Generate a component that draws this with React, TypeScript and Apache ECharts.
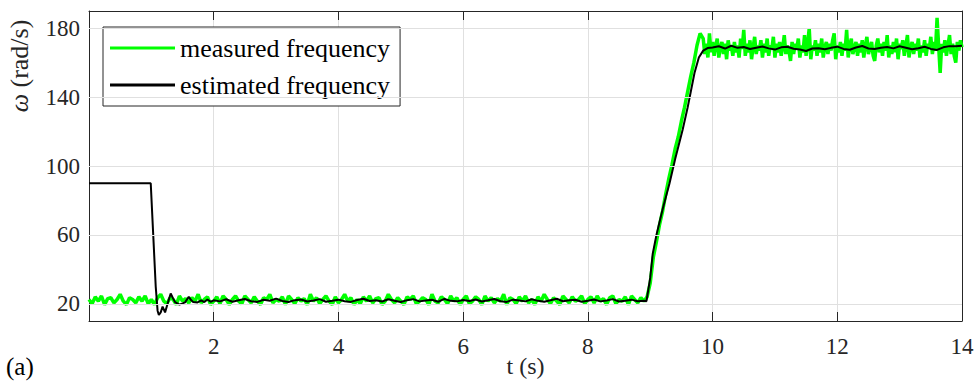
import React, { useEffect, useRef } from 'react';
import * as echarts from 'echarts';

// ---------- data ----------
const xTickInterval = 2;
const yTickValues = [20, 60, 100, 140, 180];

// measured frequency, low plateau sampled every 0.05 s
const measuredLowStep = 0.05;
const measuredLowStart = 0; // 0 .. 8.90 s
const measuredLow = [
  22.5, 20, 24, 21.5, 24.5, 19.5, 23, 23.5, 20.5, 22.5, 25.5, 21.5, 19.5, 23.5, 22.5, 20.5, 24, 21.5, 24.5, 20,
  22.5, 19.5, 23.5, 25.5, 21.5, 20, 23.5, 22.5, 19.5, 24.5, 21.5, 23, 20.5, 23.5, 21.5, 25.5, 20.5, 22.5, 24, 19.5,
  21.5, 24, 20, 24.5, 22.5, 19.5, 22.5, 24.5, 21.5, 20, 24.5, 22.5, 20.5, 24, 21.5, 19.5, 23.5, 22.5, 25.5, 20.5,
  22.5, 21.5, 24, 19.5, 24.5, 22.5, 20, 23.5, 21.5, 23, 19.5, 25.5, 21.5, 23.5, 20, 22.5, 24.5, 21.5, 19.5, 24,
  20.5, 22.5, 25.5, 21.5, 23.5, 19.5, 22.5, 20, 24, 21.5, 24.5, 20.5, 23, 23.5, 19.5, 21.5, 25.5, 22.5, 20.5, 23.5,
  21.5, 19.5, 24, 22.5, 24.5, 20, 21.5, 23.5, 22.5, 19.5, 25.5, 21.5, 20.5, 24, 22.5, 20, 24.5, 21.5, 23.5, 19.5,
  22.5, 24.5, 20, 21.5, 24, 22.5, 19.5, 24.5, 21.5, 23.5, 20.5, 23, 21.5, 25.5, 19.5, 23.5, 22.5, 20, 24, 21.5,
  24.5, 20.5, 22.5, 19.5, 24, 21.5, 25.5, 22.5, 20, 23.5, 21.5, 19.5, 24.5, 22.5, 20.5, 24, 21.5, 22.5, 24.5, 20,
  22.5, 24, 20.5, 24.5, 21.5, 23, 19.5, 23.5, 24.5, 20, 22.5, 21.5, 24, 19.5, 24.5, 22.5, 20.5, 23.5, 21.5,
];
const measuredRamp: [number, number][] = [
  [8.95, 24], [9.0, 32], [9.05, 47], [9.1, 56], [9.15, 66], [9.2, 74], [9.25, 84],
  [9.3, 93], [9.35, 101], [9.4, 110], [9.45, 117], [9.5, 126], [9.55, 134], [9.6, 143],
  [9.65, 152], [9.7, 160], [9.75, 170], [9.8, 177],
];
// high plateau sampled every 0.025 s
const measuredHighStep = 0.025;
const measuredHighStart = 9.85; // 9.85 .. 14.00 s
const measuredHigh = [
  174, 165, 171, 163, 177, 166, 172, 164, 170, 174, 163, 169, 172, 165, 171, 162, 173, 167, 170, 164,
  172, 166, 170, 163, 174, 168, 179, 164, 171, 166, 173, 162, 169, 175, 165, 170, 167, 173, 163, 171,
  166, 174, 164, 170, 168, 175, 163, 171, 166, 172, 164, 169, 176, 165, 170, 167, 161, 172, 165, 171,
  168, 174, 163, 170, 166, 176, 164, 171, 180, 162, 170, 167, 173, 164, 171, 166, 174, 163, 169, 172,
  165, 171, 167, 173, 177, 162, 170, 166, 172, 164, 171, 167, 179, 163, 170, 174, 165, 169, 172, 164,
  171, 166, 173, 163, 170, 175, 165, 169, 172, 164, 161, 170, 174, 166, 171, 164, 172, 167, 176, 163,
  170, 165, 172, 166, 174, 162, 171, 168, 173, 164, 170, 176, 163, 169, 172, 165, 171, 167, 174, 163,
  170, 166, 173, 164, 171, 168, 175, 165, 172, 167, 186, 170, 154, 171, 166, 173, 164, 170, 176, 165,
  171, 164, 160, 172, 167, 173, 169,
];

// estimated frequency
const estimatedHead: [number, number][] = [
  [0, 90], [0.99, 90], [1.03, 60], [1.07, 30], [1.1, 16], [1.12, 13.5], [1.15, 15],
  [1.18, 18.4], [1.22, 15], [1.26, 20], [1.31, 26], [1.35, 23], [1.38, 21], [1.45, 19.5],
  [1.5, 20.2], [1.54, 20.8], [1.6, 24], [1.64, 22], [1.67, 21], [1.74, 20.8], [1.8, 22],
  [1.85, 21], [1.9, 22.5], [1.95, 21.2], [2.0, 22],
];
const estimatedStep = 0.1;
const estimatedLowStart = 2.1; // 2.1 .. 8.9 s
const estimatedLow = [
  21.4, 22.6, 21.2, 22.0, 22.8, 21.5, 21.1, 22.3, 21.8, 23.0, 21.6, 21.0, 22.1, 22.5, 21.3, 21.9, 22.7, 21.2, 21.7, 22.4,
  21.5, 21.1, 22.2, 22.9, 21.6, 22.0, 21.3, 22.6, 21.8, 21.0, 22.1, 22.7, 21.4, 21.9, 22.3, 21.2, 22.8, 21.7, 21.4, 22.2,
  21.6, 22.5, 21.3, 22.0, 22.8, 21.5, 21.1, 22.4, 21.9, 21.4, 22.6, 21.7, 21.2, 22.1, 22.9, 21.5, 22.0, 22.3, 21.2, 21.8,
  22.5, 21.4, 21.9, 22.7, 21.3, 21.8, 22.4, 21.5, 21.7,
];
const estimatedRamp: [number, number][] = [
  [8.94, 21.5], [9.0, 35], [9.04, 49], [9.1, 60], [9.2, 75], [9.31, 90], [9.4, 104],
  [9.52, 121], [9.6, 134], [9.71, 154], [9.78, 163], [9.85, 167], [9.92, 168.5],
];
const estimatedHighStart = 10.0; // 10.0 .. 14.0 s
const estimatedHigh = [
  168.8, 169.5, 168.2, 169.8, 168.6, 169.1, 167.9, 168.7, 169.4, 168.3, 167.6, 168.9, 169.2, 168.1, 167.7, 166.8, 168.2, 168.4, 167.8, 168.6,
  169.3, 168.0, 167.5, 168.8, 169.7, 168.2, 167.9, 168.6, 169.1, 168.3, 169.5, 168.7, 167.8, 168.4, 169.2, 168.0, 167.4, 168.9, 169.6, 169.5,
  169.8,
];

const seriesNames = ['measured frequency', 'estimated frequency'];

// ---------- helpers ----------
const sampled = (start: number, step: number, vals: number[]): [number, number][] =>
  vals.map((v, i) => [Number((start + i * step).toFixed(3)), v]);

const measuredData: [number, number][] = [
  ...sampled(measuredLowStart, measuredLowStep, measuredLow),
  ...measuredRamp,
  ...sampled(measuredHighStart, measuredHighStep, measuredHigh),
];
const estimatedData: [number, number][] = [
  ...estimatedHead,
  ...sampled(estimatedLowStart, estimatedStep, estimatedLow),
  ...estimatedRamp,
  ...sampled(estimatedHighStart, estimatedStep, estimatedHigh),
];

const FONT = 'Liberation Serif';
const AXIS_COLOR = '#262626';
const GRID_COLOR = '#e0e0e0';

export default function App() {
  const ref = useRef<HTMLDivElement>(null);

  useEffect(() => {
    document.body.style.margin = '0';
    if (!ref.current) return;
    const chart = echarts.init(ref.current, undefined, { renderer: 'svg' });

    const tickCommon = {
      show: true,
      inside: true,
      length: 9,
      lineStyle: { color: AXIS_COLOR, width: 1 },
    };

    chart.setOption({
      animation: false,
      backgroundColor: '#ffffff',
      textStyle: { fontFamily: FONT },
      grid: { left: 89, right: 15, top: 11, bottom: 60, outerBoundsMode: 'none', containLabel: false },
      legend: {
        data: seriesNames,
        icon: 'rect',
        orient: 'vertical',
        left: 103,
        top: 27,
        itemWidth: 65,
        itemHeight: 3,
        itemGap: 11,
        padding: [8, 10, 8, 7],
        backgroundColor: '#ffffff',
        borderColor: AXIS_COLOR,
        borderWidth: 1,
        borderRadius: 0,
        selectedMode: false,
        textStyle: { fontFamily: FONT, fontSize: 26, color: '#000000' },
      },
      xAxis: [
        {
          type: 'value',
          position: 'bottom',
          min: 0,
          max: 14,
          interval: xTickInterval,
          name: 't (s)',
          nameLocation: 'middle',
          nameGap: 33,
          nameMoveOverlap: false,
          nameTextStyle: { fontFamily: FONT, fontSize: 24, color: AXIS_COLOR },
          axisLine: { show: true, onZero: false, lineStyle: { color: AXIS_COLOR, width: 1 } },
          axisTick: tickCommon,
          axisLabel: {
            fontFamily: FONT,
            fontSize: 23,
            color: AXIS_COLOR,
            margin: 14,
            formatter: (v: number) => (v === 0 ? '' : String(v)),
          },
          splitLine: { show: true, lineStyle: { color: GRID_COLOR, width: 1 } },
        },
        {
          type: 'value',
          position: 'top',
          min: 0,
          max: 14,
          interval: xTickInterval,
          axisLine: { show: true, onZero: false, lineStyle: { color: AXIS_COLOR, width: 1 } },
          axisTick: tickCommon,
          axisLabel: { show: false },
          splitLine: { show: false },
        },
      ],
      yAxis: [
        {
          type: 'value',
          position: 'left',
          min: 10,
          max: 190,
          axisLine: { show: true, onZero: false, lineStyle: { color: AXIS_COLOR, width: 1 } },
          axisTick: { ...tickCommon, customValues: yTickValues },
          axisLabel: {
            fontFamily: FONT,
            fontSize: 23,
            color: AXIS_COLOR,
            margin: 9,
            customValues: yTickValues,
          },
          splitLine: { show: false },
        },
        {
          type: 'value',
          position: 'right',
          min: 10,
          max: 190,
          axisLine: { show: true, onZero: false, lineStyle: { color: AXIS_COLOR, width: 1 } },
          axisTick: { ...tickCommon, customValues: yTickValues },
          axisLabel: { show: false, customValues: yTickValues },
          splitLine: { show: false },
        },
      ],
      graphic: [
        {
          type: 'text',
          x: 19,
          y: 66,
          rotation: Math.PI / 2,
          style: {
            text: '{i|ω} (rad/s)',
            fontFamily: FONT,
            fontSize: 26,
            fill: AXIS_COLOR,
            align: 'center',
            verticalAlign: 'middle',
            rich: { i: { fontStyle: 'italic', fontFamily: FONT, fontSize: 26, fill: AXIS_COLOR } },
          },
        },
        {
          type: 'text',
          x: 6,
          y: 366,
          style: {
            text: '(a)',
            fontFamily: FONT,
            fontSize: 25,
            fill: '#000000',
            align: 'left',
            verticalAlign: 'middle',
          },
        },
      ],
      series: [
        {
          name: 'ygrid',
          type: 'line',
          data: [],
          silent: true,
          z: 1,
          markLine: {
            silent: true,
            symbol: ['none', 'none'],
            label: { show: false },
            lineStyle: { color: GRID_COLOR, type: 'solid', width: 1 },
            data: yTickValues.map((v) => ({ yAxis: v })),
          },
        },
        {
          name: seriesNames[0],
          type: 'line',
          data: measuredData,
          showSymbol: false,
          symbol: 'none',
          z: 2,
          lineStyle: { color: '#00ff00', width: 3.5 },
          itemStyle: { color: '#00ff00' },
        },
        {
          name: seriesNames[1],
          type: 'line',
          data: estimatedData,
          showSymbol: false,
          symbol: 'none',
          z: 3,
          lineStyle: { color: '#000000', width: 2 },
          itemStyle: { color: '#000000' },
        },
      ],
    });

    return () => chart.dispose();
  }, []);

  return <div ref={ref} style={{ width: 977, height: 381 }} />;
}
